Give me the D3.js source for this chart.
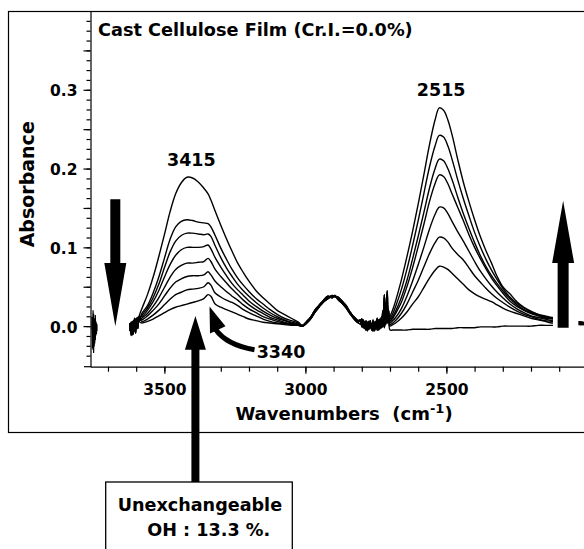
<!DOCTYPE html>
<html><head><meta charset="utf-8">
<script src="https://cdn.jsdelivr.net/npm/d3@7"></script>
<style>
html,body{margin:0;padding:0;background:#fff;}
svg{display:block;}
text{font-family:"DejaVu Sans",Verdana,sans-serif;font-weight:bold;fill:#000;}
</style></head><body>
<svg id="c" width="584" height="549"></svg>
<script>
// ---------------- DATA ----------------
const title = "Cast Cellulose Film (Cr.I.=0.0%)";
const yLabel = "Absorbance";
const xLabel = "Wavenumbers  (cm";
const xLabelSup = "-1";
const yTickValues = [0.0, 0.1, 0.2, 0.3];
const yTickLabels = ["0.0", "0.1", "0.2", "0.3"];
const xTickValues = [3500, 3000, 2500];
const xTickLabels = ["3500", "3000", "2500"];
const peakLabels = ["3415", "2515", "3340"];
const boxLines = ["Unexchangeable", "OH : 13.3 %."];

// noisy start of the spectra (three noise variants)
const prefixWn = [3622, 3618, 3614, 3610, 3606, 3602, 3598, 3594, 3590];
const prefixA = [0.004, -0.008, 0.006, -0.010, 0.008, -0.004, 0.010, 0.002, 0.012];
const prefixB = [-0.006, 0.005, -0.011, 0.007, -0.006, 0.009, -0.002, 0.011, 0.006];
const prefixC = [0.002, -0.012, 0.003, -0.007, 0.010, -0.009, 0.005, -0.003, 0.009];

// OH stretching band, one array per spectrum (exchange time increasing)
const ohWn = [3580, 3560, 3540, 3520, 3500, 3480, 3460, 3440, 3420, 3400, 3380, 3360, 3345, 3335, 3320, 3300, 3280, 3260, 3240, 3220, 3200, 3175, 3150, 3125, 3100, 3075, 3050, 3025];
const oh0 = [0.022, 0.040, 0.062, 0.088, 0.116, 0.145, 0.168, 0.182, 0.189, 0.188, 0.183, 0.175, 0.168, 0.160, 0.146, 0.128, 0.111, 0.095, 0.080, 0.068, 0.057, 0.045, 0.036, 0.028, 0.020, 0.015, 0.010, 0.005];
const oh1 = [0.016, 0.026, 0.042, 0.062, 0.086, 0.110, 0.126, 0.133, 0.135, 0.134, 0.132, 0.131, 0.130, 0.126, 0.115, 0.099, 0.085, 0.072, 0.061, 0.052, 0.044, 0.035, 0.028, 0.021, 0.015, 0.010, 0.007, 0.004];
const oh2 = [0.014, 0.023, 0.036, 0.053, 0.074, 0.094, 0.108, 0.115, 0.118, 0.118, 0.117, 0.116, 0.117, 0.114, 0.102, 0.087, 0.074, 0.063, 0.053, 0.045, 0.038, 0.030, 0.023, 0.017, 0.012, 0.008, 0.005, 0.003];
const oh3 = [0.012, 0.020, 0.031, 0.045, 0.062, 0.078, 0.090, 0.097, 0.100, 0.100, 0.100, 0.101, 0.103, 0.098, 0.087, 0.075, 0.064, 0.054, 0.046, 0.039, 0.032, 0.025, 0.019, 0.014, 0.010, 0.007, 0.004, 0.002];
const oh4 = [0.010, 0.016, 0.025, 0.036, 0.049, 0.062, 0.072, 0.077, 0.080, 0.080, 0.081, 0.082, 0.086, 0.082, 0.072, 0.063, 0.055, 0.047, 0.040, 0.033, 0.027, 0.021, 0.016, 0.011, 0.008, 0.005, 0.003, 0.002];
const oh5 = [0.008, 0.013, 0.020, 0.028, 0.038, 0.048, 0.056, 0.060, 0.063, 0.064, 0.064, 0.065, 0.069, 0.065, 0.057, 0.050, 0.044, 0.038, 0.033, 0.027, 0.022, 0.017, 0.012, 0.009, 0.006, 0.004, 0.002, 0.001];
const oh6 = [0.006, 0.009, 0.014, 0.020, 0.027, 0.034, 0.040, 0.043, 0.046, 0.047, 0.048, 0.050, 0.055, 0.052, 0.042, 0.037, 0.033, 0.030, 0.026, 0.021, 0.017, 0.013, 0.009, 0.006, 0.004, 0.003, 0.002, 0.001];
const oh7 = [0.004, 0.006, 0.009, 0.013, 0.017, 0.021, 0.024, 0.026, 0.028, 0.030, 0.032, 0.035, 0.040, 0.038, 0.028, 0.024, 0.021, 0.018, 0.015, 0.012, 0.009, 0.007, 0.005, 0.004, 0.003, 0.002, 0.001, 0.001];

// CH stretching band (same for all spectra, three noise variants)
const chWn = [3010, 2995, 2980, 2965, 2950, 2935, 2920, 2905, 2895, 2885, 2870, 2855, 2840, 2825, 2812];
const chA = [0.000, 0.004, 0.010, 0.018, 0.025, 0.031, 0.035, 0.038, 0.038, 0.036, 0.032, 0.025, 0.017, 0.010, 0.006];
const chB = [0.001, 0.006, 0.012, 0.021, 0.027, 0.033, 0.038, 0.036, 0.039, 0.034, 0.029, 0.023, 0.015, 0.008, 0.004];
const chC = [0.000, 0.005, 0.011, 0.019, 0.027, 0.032, 0.036, 0.039, 0.037, 0.037, 0.031, 0.026, 0.016, 0.011, 0.007];

// noisy gap between CH and OD bands
const noiseWn = [2805, 2800, 2795, 2790, 2785, 2780, 2775, 2770, 2765, 2760, 2755, 2750, 2745, 2740, 2735, 2730, 2725, 2720, 2715, 2710, 2705];
const noiseA = [0.006, 0.001, 0.008, -0.003, 0.004, -0.004, 0.006, -0.002, 0.003, -0.006, 0.005, -0.003, 0.007, -0.004, 0.009, -0.002, 0.014, 0.000, 0.030, 0.004, 0.020];
const noiseB = [0.003, 0.009, -0.002, 0.006, -0.005, 0.005, -0.004, 0.007, -0.005, 0.004, -0.004, 0.006, -0.005, 0.008, -0.003, 0.012, -0.001, 0.040, 0.002, 0.028, 0.006];
const noiseC = [0.008, -0.001, 0.004, 0.001, 0.007, -0.006, 0.002, 0.004, -0.003, 0.008, -0.006, 0.002, 0.010, -0.005, 0.004, 0.006, 0.020, -0.002, 0.012, 0.045, 0.010];

// OD stretching band, one array per spectrum
const odWn = [2700, 2690, 2680, 2660, 2640, 2620, 2600, 2580, 2560, 2540, 2525, 2510, 2495, 2480, 2460, 2440, 2420, 2400, 2380, 2360, 2340, 2320, 2300, 2275, 2250, 2225, 2200, 2175, 2150, 2125, 2100, 2075, 2050, 2025, 2000];
const od0 = [-0.005, -0.005, -0.005, -0.005, -0.005, -0.004, -0.004, -0.004, -0.004, -0.003, -0.003, -0.003, -0.003, -0.003, -0.002, -0.002, -0.002, -0.002, -0.001, -0.001, -0.001, -0.001, 0.000, 0.000, 0.000, 0.000, 0.000, 0.001, 0.001, 0.001, 0.001, 0.002, 0.002, 0.002, 0.002];
const od1 = [0.000, 0.002, 0.004, 0.010, 0.018, 0.028, 0.037, 0.049, 0.061, 0.071, 0.076, 0.075, 0.072, 0.067, 0.060, 0.053, 0.046, 0.041, 0.037, 0.034, 0.031, 0.027, 0.023, 0.019, 0.016, 0.013, 0.010, 0.008, 0.006, 0.004, 0.004, 0.003, 0.003, 0.002, 0.002];
const od2 = [0.002, 0.004, 0.007, 0.016, 0.028, 0.043, 0.058, 0.075, 0.092, 0.106, 0.113, 0.112, 0.107, 0.099, 0.091, 0.084, 0.074, 0.064, 0.056, 0.048, 0.041, 0.035, 0.030, 0.024, 0.019, 0.015, 0.012, 0.009, 0.007, 0.006, 0.005, 0.004, 0.004, 0.003, 0.003];
const od3 = [0.004, 0.007, 0.011, 0.022, 0.038, 0.057, 0.078, 0.100, 0.123, 0.142, 0.151, 0.150, 0.143, 0.133, 0.120, 0.108, 0.095, 0.082, 0.070, 0.060, 0.051, 0.043, 0.036, 0.028, 0.022, 0.017, 0.013, 0.011, 0.009, 0.007, 0.006, 0.005, 0.005, 0.004, 0.004];
const od4 = [0.006, 0.010, 0.016, 0.030, 0.050, 0.074, 0.101, 0.129, 0.158, 0.181, 0.192, 0.190, 0.181, 0.168, 0.151, 0.134, 0.116, 0.100, 0.086, 0.073, 0.061, 0.051, 0.042, 0.032, 0.025, 0.020, 0.016, 0.013, 0.010, 0.009, 0.008, 0.007, 0.006, 0.005, 0.004];
const od5 = [0.007, 0.012, 0.019, 0.036, 0.058, 0.085, 0.114, 0.144, 0.175, 0.200, 0.212, 0.210, 0.200, 0.186, 0.164, 0.143, 0.124, 0.106, 0.090, 0.076, 0.064, 0.054, 0.045, 0.035, 0.027, 0.021, 0.017, 0.014, 0.011, 0.010, 0.008, 0.007, 0.006, 0.005, 0.004];
const od6 = [0.009, 0.016, 0.025, 0.046, 0.072, 0.102, 0.134, 0.168, 0.202, 0.229, 0.242, 0.240, 0.229, 0.212, 0.186, 0.162, 0.140, 0.119, 0.101, 0.085, 0.071, 0.059, 0.048, 0.037, 0.029, 0.023, 0.018, 0.015, 0.012, 0.010, 0.009, 0.008, 0.007, 0.005, 0.004];
const od7 = [0.012, 0.021, 0.032, 0.058, 0.088, 0.120, 0.155, 0.192, 0.230, 0.262, 0.277, 0.274, 0.262, 0.243, 0.212, 0.183, 0.158, 0.135, 0.114, 0.096, 0.080, 0.063, 0.050, 0.041, 0.031, 0.024, 0.019, 0.015, 0.013, 0.011, 0.010, 0.009, 0.007, 0.005, 0.004];

// small noisy fragment at the far left
const farWn = [3757, 3755, 3753, 3751, 3749, 3747, 3745, 3743, 3741, 3739];
const farA = [0.012, -0.028, 0.020, -0.034, 0.006, -0.022, 0.014, -0.012, 0.004, -0.006];
const farB = [-0.004, 0.008, -0.030, 0.016, -0.026, 0.010, -0.018, 0.006, -0.010, 0.002];

// ---------------- BUILD ----------------
const prefixes = [prefixA, prefixB, prefixC];
const chs = [chA, chB, chC];
const noises = [noiseA, noiseB, noiseC];
const ohBands = [oh0, oh1, oh2, oh3, oh4, oh5, oh6, oh7];
const odBands = [od0, od1, od2, od3, od4, od5, od6, od7];
const allWn = prefixWn.concat(ohWn, chWn, noiseWn, odWn);
const spectra = ohBands.map((oh, i) => {
  const v = i % 3;
  const vals = prefixes[v].concat(oh, chs[v], noises[v], odBands[i]);
  return allWn.map((w, j) => [w, vals[j]]);
});
const farSpectra = [farA, farB].map(a => farWn.map((w, j) => [w, a[j]]));

const svg = d3.select("#c");
const x = d3.scaleLinear().domain([3762, 2012]).range([90.5, 584]);
const y = d3.scaleLinear().domain([-0.0515, 0.4]).range([366.7, 11]);

// outer frame
svg.append("rect").attr("x", 8.5).attr("y", 11.5).attr("width", 620).attr("height", 421)
  .attr("fill", "none").attr("stroke", "#000").attr("stroke-width", 1.2);

svg.append("defs").append("clipPath").attr("id", "plot")
  .append("rect").attr("x", 91).attr("y", 11).attr("width", 500).attr("height", 355);

const line = d3.line().x(d => x(d[0])).y(d => y(d[1])).curve(d3.curveCatmullRom.alpha(0.5));
const g = svg.append("g").attr("clip-path", "url(#plot)");
g.selectAll("path.s").data(spectra).join("path").attr("class", "s")
  .attr("d", line).attr("fill", "none").attr("stroke", "#000").attr("stroke-width", 1.4);
g.selectAll("path.f").data(farSpectra).join("path").attr("class", "f")
  .attr("d", d3.line().x(d => x(d[0])).y(d => y(d[1]))).attr("fill", "none").attr("stroke", "#000").attr("stroke-width", 1.2);

// axes
const minorY = d3.range(-0.0375, 0.39, 0.0125);
const midY = [0.05, 0.15, 0.25, 0.35];
const yAx = svg.append("g").attr("transform", "translate(90.5,0)");
yAx.call(d3.axisLeft(y).tickValues(minorY).tickSize(4).tickSizeOuter(0).tickFormat(""));
yAx.append("g").call(d3.axisLeft(y).tickValues(midY).tickSize(7).tickFormat("")).select(".domain").remove();
const yMaj = yAx.append("g").call(d3.axisLeft(y).tickValues(yTickValues).tickSize(7).tickFormat((d, i) => yTickLabels[i]));
yMaj.select(".domain").remove();
yMaj.selectAll("text").attr("x", -13).attr("dy", "0.38em").style("font-size", "15.5px")
  .style("font-family", "'DejaVu Sans'").style("font-weight", "bold");
yAx.selectAll("line,path").attr("stroke", "#000").attr("stroke-width", 1.2);

const minorX = d3.range(3700, 2000, -100);
const xAx = svg.append("g").attr("transform", "translate(0,366.7)");
xAx.call(d3.axisBottom(x).tickValues(minorX).tickSize(5).tickSizeOuter(0).tickFormat(""));
const xMaj = xAx.append("g").call(d3.axisBottom(x).tickValues(xTickValues).tickSize(7).tickFormat((d, i) => xTickLabels[i]));
xMaj.select(".domain").remove();
xMaj.selectAll("text").attr("y", 17).attr("dy", "0.71em").style("font-size", "15.5px")
  .style("font-family", "'DejaVu Sans'").style("font-weight", "bold");
xAx.selectAll("line,path").attr("stroke", "#000").attr("stroke-width", 1.2);
svg.append("line").attr("x1", 84).attr("x2", 91).attr("y1", 366.7).attr("y2", 366.7).attr("stroke", "#000").attr("stroke-width", 1.2);

// labels
svg.append("text").attr("x", 98).attr("y", 36).style("font-size", "17.7px").text(title);
svg.append("text").attr("transform", "translate(33.5,184.3) rotate(-90)").attr("text-anchor", "middle")
  .style("font-size", "19px").text(yLabel);
const xl = svg.append("text").attr("x", 344).attr("y", 419.5).attr("text-anchor", "middle")
  .style("font-size", "18px").attr("xml:space", "preserve").style("white-space", "pre");
xl.append("tspan").text(xLabel);
xl.append("tspan").attr("dy", -7).style("font-size", "13px").text(xLabelSup);
xl.append("tspan").attr("dy", 7).text(")");

svg.append("text").attr("x", x(3415) + 3).attr("y", 165.5).attr("text-anchor", "middle").style("font-size", "17.5px").text(peakLabels[0]);
svg.append("text").attr("x", x(2515) - 1).attr("y", 95.7).attr("text-anchor", "middle").style("font-size", "17.5px").text(peakLabels[1]);
svg.append("text").attr("x", 281).attr("y", 357.5).attr("text-anchor", "middle").style("font-size", "17.5px").text(peakLabels[2]);

// arrows
function arrow(cx, yTail, yBase, yTip, sw, hw) {
  const p = d3.path();
  p.moveTo(cx - sw / 2, yTail); p.lineTo(cx - sw / 2, yBase); p.lineTo(cx - hw / 2, yBase);
  p.lineTo(cx, yTip); p.lineTo(cx + hw / 2, yBase); p.lineTo(cx + sw / 2, yBase);
  p.lineTo(cx + sw / 2, yTail); p.closePath();
  svg.append("path").attr("d", p.toString()).attr("fill", "#000");
}
// white backing behind right arrow
svg.append("rect").attr("x", x(2122)).attr("y", y(0.03)).attr("width", x(2032) - x(2122)).attr("height", y(-0.01) - y(0.03)).attr("fill", "#fff");
arrow(x(3674), y(0.161), y(0.080), y(0.0), 10, 22);
arrow(x(2086), y(-0.002), y(0.080), y(0.159), 11, 22);
arrow(x(3390), 482, y(-0.030), y(0.013), 8, 21);

// curved arrow pointing to 3340 shoulder
svg.append("path").attr("d", `M${x(3340)},${y(0.025)} L${x(3340) + 0.5},${y(-0.0095)} L${x(3340) + 16},${y(0.0)} Z`).attr("fill", "#000");
svg.append("path").attr("d", `M${x(3340) + 6},${y(-0.004)} Q${x(3340) + 17},${y(-0.024)} ${x(3340) + 45},${y(-0.030)}`)
  .attr("fill", "none").attr("stroke", "#000").attr("stroke-width", 5);

// box
svg.append("rect").attr("x", 105.7).attr("y", 482).attr("width", 186.6).attr("height", 80)
  .attr("fill", "#fff").attr("stroke", "#000").attr("stroke-width", 1.3);
svg.append("text").attr("x", 117.7).attr("y", 511).style("font-size", "17.6px").text(boxLines[0]);
svg.append("text").attr("x", 147.3).attr("y", 536).style("font-size", "17.6px").text(boxLines[1]);
</script></body></html>
